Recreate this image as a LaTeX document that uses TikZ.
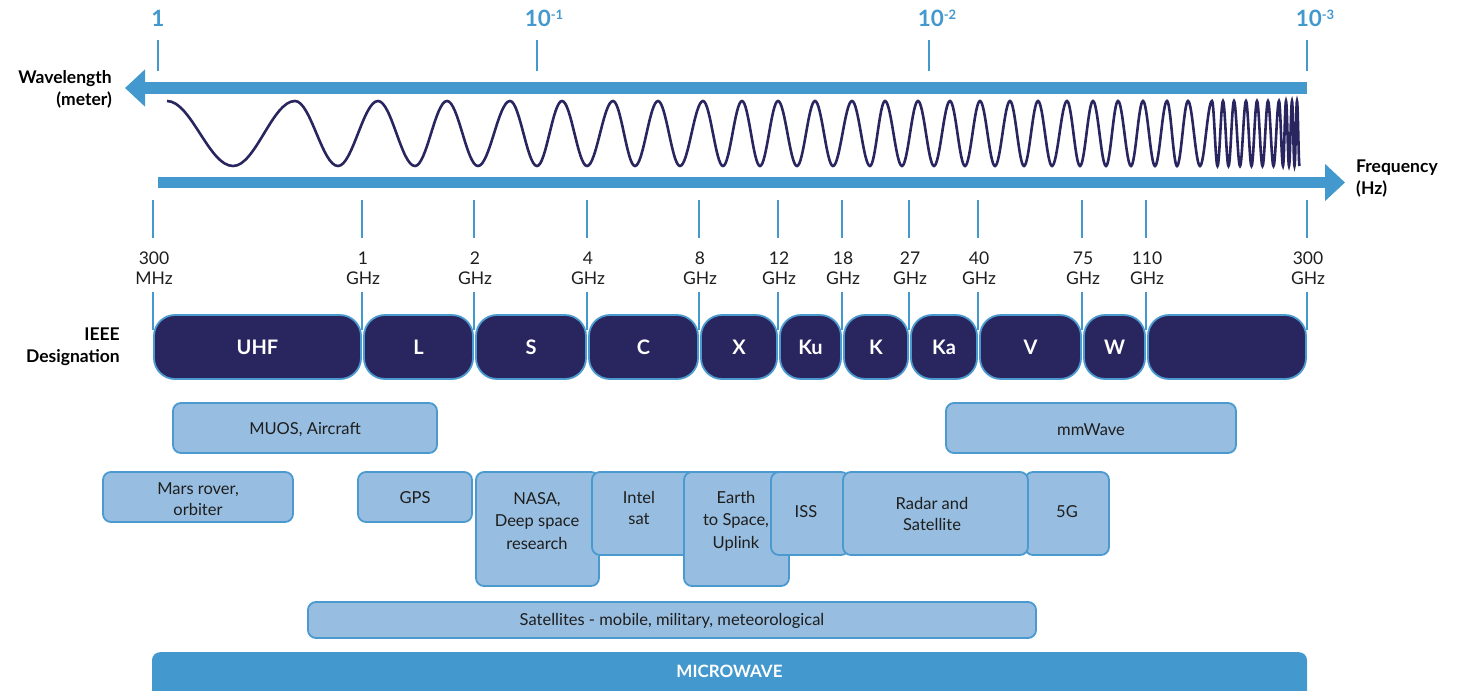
\documentclass[tikz,border=0pt]{standalone}
\usepackage{fontspec}
\setmainfont{Lato}
\usetikzlibrary{arrows.meta}
\definecolor{axisblue}{HTML}{4398CD}
\definecolor{navy}{HTML}{28255F}
\definecolor{appfill}{HTML}{97BDE0}
\definecolor{appline}{HTML}{4A9AD0}
\definecolor{txt}{HTML}{1E1E1E}
\newcommand\mysup[1]{\raisebox{7pt}{\fontsize{13}{13}\selectfont #1}}
\begin{document}
\begin{tikzpicture}[x=1pt,y=-1pt,
  axisarrow/.style={draw=axisblue, line width=11.5pt, -{Triangle[length=20pt,width=36pt]}},
  tickline/.style={draw=axisblue, line width=1.8pt},
  toplab/.style={text=axisblue, font=\fontsize{22.5}{24}\selectfont\bfseries, inner sep=0pt},
  sidelab/.style={font=\fontsize{17.5}{22}\selectfont\bfseries, inner sep=0pt, text=black},
  freqlab/.style={font=\fontsize{17.5}{20}\selectfont, text=txt, align=center, inner sep=0pt},
  band/.style={draw=appline, line width=1.8pt, fill=navy, rounded corners=21pt, minimum height=64pt, inner sep=0pt, text=white, font=\fontsize{20}{22}\selectfont\bfseries},
  app/.style={draw=appline, line width=1.8pt, fill=appfill, rounded corners=8pt, inner sep=0pt},
  apptext/.style={text=txt, align=center, inner sep=0pt, font=\fontsize{16.5}{21}\selectfont},
  apptextw/.style={apptext, font=\fontsize{16.5}{22.5}\selectfont},
  micro/.style={fill=axisblue, rounded corners=8pt, inner sep=0pt},
  wave/.style={draw=navy, line width=2.6pt}
]
\clip (0,0) rectangle (1460,691);

% top wavelength scale
\node[toplab] (w0) at (158,18) {1};
\node[toplab] (w1) at (544,18) {10\mysup{-1}};
\node[toplab] (w2) at (937,18) {10\mysup{-2}};
\node[toplab] (w3) at (1315,18) {10\mysup{-3}};
\foreach \x/\n in {158/a,537/b,929/c,1307/d}{
  \coordinate (tt\n1) at (\x,40);
  \coordinate (tt\n2) at (\x,71);
  \draw[tickline] (tt\n1) -- (tt\n2);
}

% axes
\coordinate (wlR) at (1307,88);
\coordinate (wlL) at (125,88);
\draw[axisarrow] (wlR) -- (wlL);
\coordinate (frL) at (158,182.5);
\coordinate (frR) at (1345,182.5);
\draw[axisarrow] (frL) -- (frR);

\node[sidelab, anchor=east, align=right] (wl) at (112,89.5) {Wavelength\\(meter)};
\node[sidelab, anchor=west, align=left] (fr) at (1356,178.5) {Frequency\\(Hz)};
\node[sidelab, anchor=east, align=right] (ieee) at (120,346.5) {IEEE\\Designation};

% wave
\draw[wave] (167,101) \foreach \a/\b/\e in {
 167/233/166, 233/295/101, 295/338/166, 338/378/101, 378/415/166, 415/447/101,
 447/478/166, 478/510/101, 510/537/166, 537/562/101, 562/587/166, 587/613/101,
 613/635/166, 635/658/101, 658/680/166, 680/703/101, 703/723/166, 723/742/101,
 742/760/166, 760/778/101, 778/797/166, 797/815/101, 815/833/166, 833/852/101,
 852/870/166, 870/885/101, 885/902/166, 902/918/101, 918/934/166, 934/950/101,
 950/965/166, 965/980/101, 980/995/166, 995/1010/101, 1010/1024/166, 1024/1038/101,
 1038/1052/166, 1052/1067/101, 1067/1080/166, 1080/1093/101, 1093/1106/166, 1106/1118/101,
 1118/1131/166, 1131/1143/101, 1143/1155/166, 1155/1167/101, 1167/1177/166, 1177/1188/101,
 1188/1200/166, 1200/1212/101, 1212/1217.5/166, 1217.5/1223/101, 1223/1228.5/166, 1228.5/1234/101,
 1234/1240/166, 1240/1246/101, 1246/1251.5/166, 1251.5/1257/101, 1257/1262.5/166, 1262.5/1268/101,
 1268/1273.5/166, 1273.5/1279/101, 1279/1283/166, 1283/1286/101, 1286/1289/166, 1289/1292/101,
 1292/1294.5/166, 1294.5/1297/101, 1297/1299.5/166}
 { cos ({(\a+\b)/2},133.5) sin (\b,\e) };

% frequency ticks and labels
\foreach \x/\n/\t in {153/f0/{300\\MHz}, 362/f1/{1\\GHz}, 474/f2/{2\\GHz}, 587/f3/{4\\GHz},
  699/f4/{8\\GHz}, 778/f5/{12\\GHz}, 842/f6/{18\\GHz}, 909/f7/{27\\GHz}, 978/f8/{40\\GHz},
  1082/f9/{75\\GHz}, 1146/f10/{110\\GHz}, 1307/f11/{300\\GHz}}{
  \coordinate (\n a) at (\x,200);
  \coordinate (\n b) at (\x,238);
  \coordinate (\n c) at (\x,292);
  \coordinate (\n d) at (\x,330);
  \draw[tickline] (\n a) -- (\n b);
  \draw[tickline] (\n c) -- (\n d);
  \node[freqlab] (\n lab) at (\x+1,268.5) {\t};
}

% IEEE bands
\node[band, minimum width=207pt] (uhf) at (257.5,347) {UHF};
\node[band, minimum width=109pt] (bl) at (418.5,347) {L};
\node[band, minimum width=110pt] (bs) at (531,347) {S};
\node[band, minimum width=109pt] (bc) at (643.5,347) {C};
\node[band, minimum width=76pt] (bx) at (739,347) {X};
\node[band, minimum width=61pt] (bku) at (810.5,347) {Ku};
\node[band, minimum width=64pt] (bk) at (876,347) {K};
\node[band, minimum width=66pt] (bka) at (944,347) {Ka};
\node[band, minimum width=101pt] (bv) at (1030.5,347) {V};
\node[band, minimum width=61pt] (bw) at (1114.5,347) {W};
\node[band, minimum width=158pt] (bblank) at (1227,347) {};

% applications
\node[app, minimum width=264pt, minimum height=50pt] (muos) at (305,428) {};
\node[apptext] (muost) at (305,430) {MUOS, Aircraft};
\node[app, minimum width=290pt, minimum height=50pt] (mmw) at (1091,428) {};
\node[apptext] (mmwt) at (1091,430) {mmWave};
\node[app, minimum width=190pt, minimum height=50pt] (mars) at (198,497) {};
\node[apptext] (marst) at (198,499) {Mars rover,\\orbiter};
\node[app, minimum width=114pt, minimum height=50pt] (gps) at (415,497) {};
\node[apptext] (gpst) at (415,498) {GPS};
\node[app, minimum width=123pt, minimum height=114pt] (nasa) at (537.5,529) {};
\node[apptextw] (nasat) at (537,521) {NASA,\\Deep space\\research};
\node[app, minimum width=107pt, minimum height=83pt] (intel) at (645.5,513.5) {};
\node[apptext] (intelt) at (639,507.5) {Intel\\sat};
\node[app, minimum width=105pt, minimum height=114pt] (earth) at (736.5,529) {};
\node[apptextw] (eartht) at (736,521) {Earth\\to Space,\\Uplink};
\node[app, minimum width=78pt, minimum height=83pt] (iss) at (810,513.5) {};
\node[apptext] (isst) at (806,512) {ISS};
\node[app, minimum width=84pt, minimum height=83pt] (fiveg) at (1067,513.5) {};
\node[apptext] (fivegt) at (1067,512) {5G};
\node[app, minimum width=185pt, minimum height=83pt] (radar) at (935.5,513.5) {};
\node[apptext] (radart) at (932,514) {Radar and\\Satellite};
\node[app, minimum width=728pt, minimum height=36pt] (sats) at (672,620) {};
\node[apptext] (satst) at (672,620.5) {Satellites - mobile, military, meteorological};

% microwave bar
\node[micro, minimum width=1155pt, minimum height=60pt, anchor=north] (mw) at (729.5,652) {};
\node[text=white, inner sep=0pt, font=\fontsize{17}{20}\selectfont\bfseries] (mwt) at (729.5,671.5) {MICROWAVE};
\end{tikzpicture}
\end{document}
